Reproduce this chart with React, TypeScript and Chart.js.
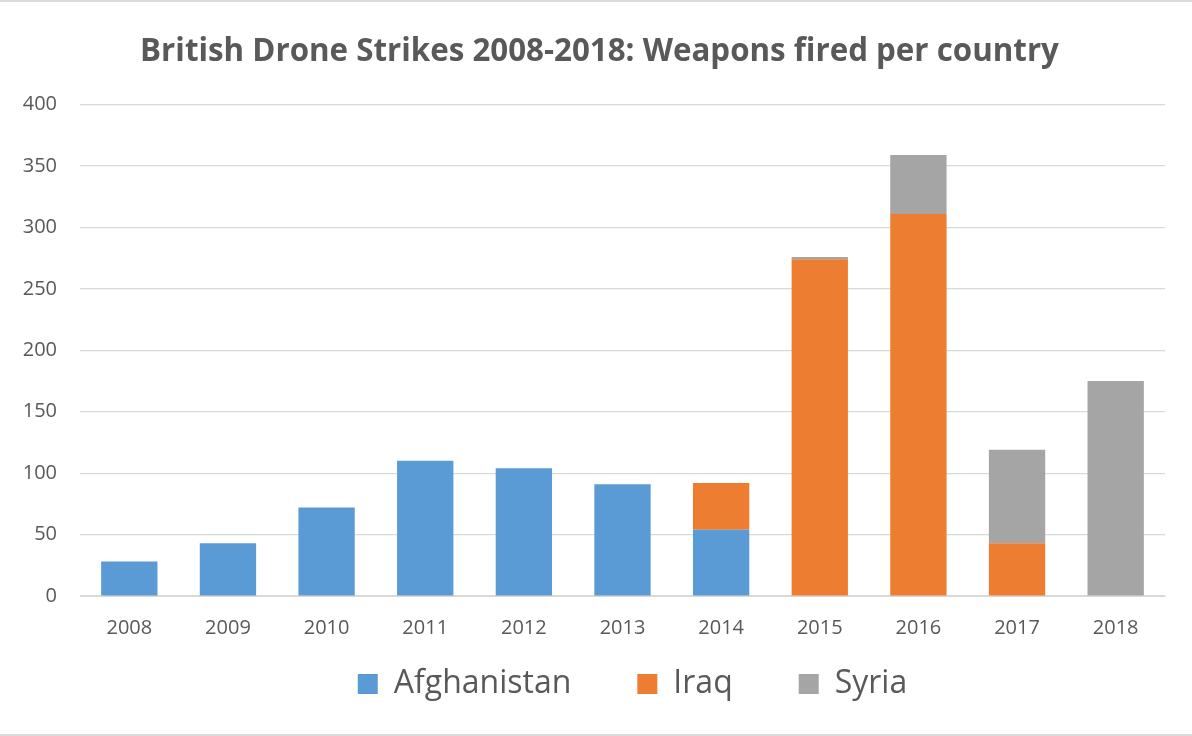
import React, { useEffect, useRef } from "react";
import { Chart, registerables } from "chart.js";

Chart.register(...registerables);

const years = ["2008", "2009", "2010", "2011", "2012", "2013", "2014", "2015", "2016", "2017", "2018"];
const afghanistan = [28, 43, 72, 110, 104, 91, 54, 0, 0, 0, 0];
const iraq = [0, 0, 0, 0, 0, 0, 38, 274, 311, 43, 0];
const syria = [0, 0, 0, 0, 0, 0, 0, 2, 48, 76, 175];
const titleText = "British Drone Strikes 2008-2018: Weapons fired per country";

const FONT = "'Open Sans', 'Noto Sans', sans-serif";
const TEXT = "#595959";
const GRID = "#d9d9d9";

const shiftPlugin = {
  id: "shiftBlocks",
  afterLayout(chart: any) {
    if (chart.legend) {
      chart.legend.left += 50;
      chart.legend.right += 50;
      chart.legend.top -= 48;
      chart.legend.bottom -= 48;
    }
    if (chart.titleBlock) {
      chart.titleBlock.left += 17;
      chart.titleBlock.right += 17;
    }
  },
};

export default function App() {
  const ref = useRef<HTMLCanvasElement | null>(null);

  useEffect(() => {
    if (!ref.current) return;
    const chart = new Chart(ref.current, {
      type: "bar",
      data: {
        labels: years,
        datasets: [
          { label: "Afghanistan", data: afghanistan, backgroundColor: "#5B9BD5" },
          { label: "Iraq", data: iraq, backgroundColor: "#ED7D31" },
          { label: "Syria", data: syria, backgroundColor: "#A5A5A5" },
        ],
      },
      plugins: [shiftPlugin],
      options: {
        animation: false,
        responsive: false,
        maintainAspectRatio: false,
        datasets: { bar: { barPercentage: 0.571, categoryPercentage: 1, borderWidth: 0 } },
        layout: { padding: { left: 0, right: 27, top: 0, bottom: 0 } },
        plugins: {
          title: {
            display: true,
            text: titleText,
            color: TEXT,
            font: { family: FONT, size: 31.3, weight: "bold" },
            padding: { top: 31, bottom: 34 },
          },
          legend: {
            position: "bottom",
            labels: {
              color: TEXT,
              font: { family: FONT, size: 32 },
              boxWidth: 20,
              boxHeight: 20,
              padding: 66,
            },
          },
          tooltip: { enabled: false },
        },
        scales: {
          x: {
            stacked: true,
            grid: { display: false },
            border: { display: true, color: GRID },
            ticks: { color: TEXT, font: { family: FONT, size: 20 }, padding: 12 },
            afterFit: (s: any) => { s.height = 54; },
          },
          y: {
            stacked: true,
            min: 0,
            max: 400,
            border: { display: false },
            grid: { color: GRID, lineWidth: 1.2, drawTicks: false },
            ticks: { color: TEXT, font: { family: FONT, size: 20 }, stepSize: 50, padding: 23 },
            afterFit: (s: any) => { s.width = 80; },
          },
        },
      },
    });
    return () => chart.destroy();
  }, []);

  return (
    <div
      style={{
        position: "fixed",
        left: 0,
        top: 0,
        width: 1192,
        height: 736,
        overflow: "hidden",
        background: "#fff",
        boxSizing: "border-box",
        borderTop: "2px solid #dcdcdc",
        borderBottom: "2px solid #dcdcdc",
      }}
    >
      <canvas ref={ref} width={1192} height={756} style={{ display: "block" }} />
    </div>
  );
}
